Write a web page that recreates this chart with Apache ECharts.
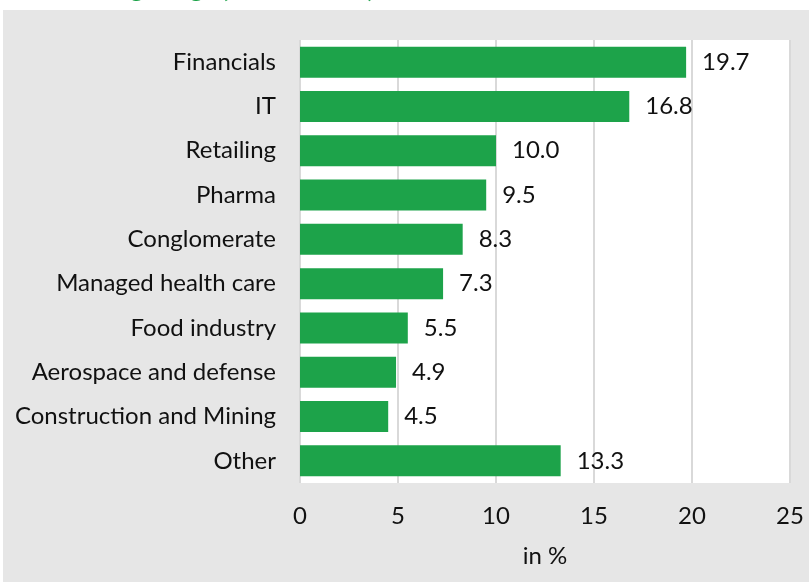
<!DOCTYPE html>
<html>
<head>
<meta charset="utf-8">
<script src="https://cdn.jsdelivr.net/npm/echarts@6/dist/echarts.min.js"></script>
<style>
  html, body { margin: 0; padding: 0; background: #fff; }
  #chart { width: 809px; height: 582px; }
</style>
</head>
<body>
<div id="chart"></div>
<script>
// sector weights, in %
const sectors = ['Financials', 'IT', 'Retailing', 'Pharma', 'Conglomerate',
    'Managed health care', 'Food industry', 'Aerospace and defense',
    'Construction and Mining', 'Other'];
const weights = [19.7, 16.8, 10.0, 9.5, 8.3, 7.3, 5.5, 4.9, 4.5, 13.3];
const xTicks = [0, 5, 10, 15, 20, 25];

const FONT = 'Lato';
const GREEN = '#1da34a';

const myChart = echarts.init(document.getElementById('chart'));

const option = {
    backgroundColor: '#fff',
    animation: false,
    textStyle: { fontFamily: FONT },
    graphic: [
        {
            type: 'rect',
            z: -100,
            shape: { x: 3, y: 10, width: 806, height: 572 },
            style: { fill: '#e6e6e6' }
        },
        {
            // title cut off at the top edge
            type: 'text',
            z: -90,
            left: 8,
            top: -24,
            style: { text: 'Sector weightings (in % of fund)', font: 'bold 26px ' + FONT, fill: GREEN }
        }
    ],
    grid: {
        left: 300, right: 19, top: 40, bottom: 99,
        show: true, backgroundColor: '#fff', borderWidth: 0
    },
    xAxis: {
        type: 'value',
        min: xTicks[0],
        max: xTicks[xTicks.length - 1],
        interval: 5,
        name: 'in %',
        nameLocation: 'middle',
        nameGap: 61,
        nameTextStyle: { fontSize: 24, color: '#111', fontFamily: FONT },
        axisLine: { show: false },
        axisTick: { show: false },
        axisLabel: { fontSize: 24, color: '#111', margin: 21, fontFamily: FONT },
        splitLine: { lineStyle: { color: '#d9d9d9', width: 2 } }
    },
    yAxis: {
        type: 'category',
        data: sectors,
        inverse: true,
        axisLine: { show: false },
        axisTick: { show: false },
        axisLabel: { fontSize: 24, color: '#111', margin: 24, fontFamily: FONT }
    },
    series: [{
        type: 'bar',
        data: weights,
        barWidth: '70%',
        itemStyle: { color: GREEN },
        label: {
            show: true,
            position: 'right',
            distance: 16,
            fontSize: 24,
            color: '#111',
            fontFamily: FONT,
            formatter: p => p.value.toFixed(1)
        }
    }]
};

myChart.setOption(option);
</script>
</body>
</html>
